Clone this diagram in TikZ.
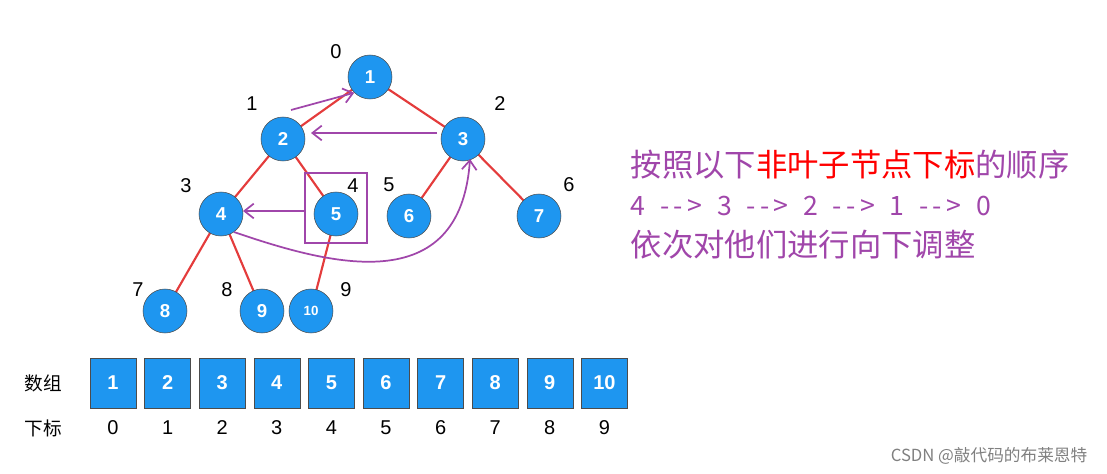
\documentclass[tikz,border=0pt]{standalone}
\usepackage{fontspec}
\setmainfont{Liberation Sans}
\newfontfamily\cjk{Noto Sans CJK SC}
\usetikzlibrary{arrows.meta}
\definecolor{nblue}{RGB}{30,150,240}
\definecolor{ered}{RGB}{228,60,60}
\definecolor{ppl}{RGB}{160,70,170}
\begin{document}
\begin{tikzpicture}[x=0.75pt,y=-0.75pt,
  tn/.style={circle,draw=black!70,fill=nblue,minimum size=44*0.75pt,inner sep=0pt,text=white,font=\bfseries\fontsize{14}{14}\selectfont},
  ab/.style={rectangle,draw=black!70,fill=nblue,minimum width=46*0.75pt,minimum height=50*0.75pt,inner sep=0pt,text=white,font=\bfseries\fontsize{15}{15}\selectfont},
  il/.style={font=\fontsize{15}{15}\selectfont},
  ed/.style={ered,line width=1.6pt},
  pa/.style={ppl,line width=1.3pt,-{Straight Barb[length=7pt,width=11pt]}},
  ct/.style={font=\cjk\fontsize{23.5}{23.5}\selectfont,anchor=west}]
\useasboundingbox (0,0) rectangle (1107,474);
\coordinate (p1) at (370,77);
\coordinate (p2) at (283,139);
\coordinate (p3) at (463,139);
\coordinate (p4) at (221,214);
\coordinate (p5) at (336,214);
\coordinate (p6) at (409,216);
\coordinate (p7) at (539,216);
\coordinate (p8) at (165,311);
\coordinate (p9) at (262,311);
\coordinate (p10) at (311,311);
\foreach \a/\b in {p1/p2,p1/p3,p2/p4,p2/p5,p3/p6,p3/p7,p4/p8,p4/p9,p5/p10}
  \draw[ed] (\a) -- (\b);
\node[tn] (n1) at (p1) {1};
\node[tn] (n2) at (p2) {2};
\node[tn] (n3) at (p3) {3};
\node[tn] (n4) at (p4) {4};
\node[tn] (n5) at (p5) {5};
\node[tn] (n6) at (p6) {6};
\node[tn] (n7) at (p7) {7};
\node[tn] (n8) at (p8) {8};
\node[tn] (n9) at (p9) {9};
\node[tn,font=\bfseries\fontsize{10}{10}\selectfont] (n10) at (p10) {10};
\node[il] (i0) at (336,52) {0};
\node[il] (i1) at (252,104) {1};
\node[il] (i2) at (500,104) {2};
\node[il] (i3) at (186,186) {3};
\node[il] (i4) at (353,186) {4};
\node[il] (i5) at (389,185) {5};
\node[il] (i6) at (569,185) {6};
\node[il] (i7) at (138,290) {7};
\node[il] (i8) at (227,290) {8};
\node[il] (i9) at (346,290) {9};
\node[draw=ppl,line width=1.3pt,minimum width=62*0.75pt,minimum height=70*0.75pt,inner sep=0pt] (box) at (336,208) {};
\coordinate (a1s) at (291,110);
\coordinate (a3s) at (437,133);
\coordinate (a4e) at (311,133);
\coordinate (a5s) at (305,211);
\coordinate (a5e) at (243,211);
\coordinate (cs) at (234,232);
\coordinate (ce) at (470,159);
\draw[pa] (a1s) -- (n1.south west);
\draw[pa] (a3s) -- (a4e);
\draw[pa] (a5s) -- (a5e);
\draw[pa] (cs) .. controls (330,265) and (460,300) .. (ce);
\node[ct] (t1) at (626,165) {\textcolor{ppl}{按照以下}\textcolor{red}{非叶子节点下标}\textcolor{ppl}{的顺序}};
\node[ct,font=\cjk\fontsize{20}{20}\selectfont,text=ppl] (t2) at (626,206) {4\hspace{0.55em}-\,-\,>\hspace{0.55em}3\hspace{0.55em}-\,-\,>\hspace{0.55em}2\hspace{0.55em}-\,-\,>\hspace{0.55em}1\hspace{0.55em}-\,-\,>\hspace{0.55em}0};
\node[ct,text=ppl] (t3) at (626,245) {依次对他们进行向下调整};
\node[font=\cjk\fontsize{14}{14}\selectfont] (lab1) at (43,383) {数组};
\node[font=\cjk\fontsize{14}{14}\selectfont] (lab2) at (43,428) {下标};
\foreach \i in {0,...,9}{
  \pgfmathsetmacro\xx{113+54.6*\i}
  \pgfmathtruncatemacro\v{\i+1}
  \node[ab] (b\i) at (\xx,383) {\v};
  \node[il] (k\i) at (\xx,428) {\i};
}
\node[font=\cjk\fontsize{12.5}{12.5}\selectfont,text=gray,anchor=east] (wm) at (1092,456) {CSDN @敲代码的布莱恩特};
\end{tikzpicture}
\end{document}
